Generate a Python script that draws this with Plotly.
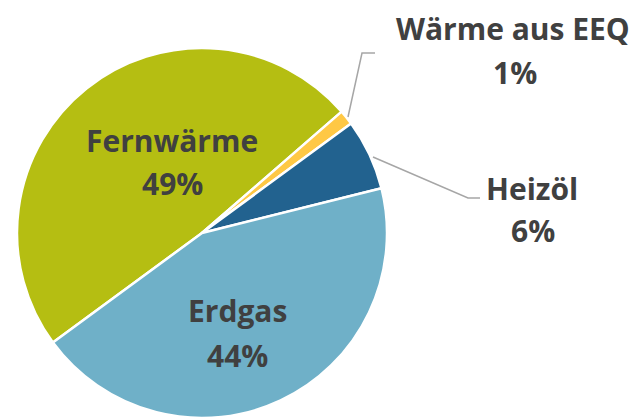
import plotly.graph_objects as go

labels = ["Fernwärme", "Wärme aus EEQ", "Heizöl", "Erdgas"]
values = [48.7, 1.3, 6.2, 43.8]
colors = ["#B5BE12", "#FFC845", "#22628F", "#6FB0C8"]

W, H = 643, 418
R = 185
CX, CY = 202, H - R

fig = go.Figure(go.Pie(
    labels=labels, values=values, sort=False, direction="clockwise",
    rotation=233.7, textinfo="none", hoverinfo="label+percent",
    marker=dict(colors=colors, line=dict(color="white", width=2.5)),
    domain=dict(x=[0, 2 * CX / W], y=[0, 2 * R / H]),
    showlegend=False,
))

# label positions in pixels (name line center, percent line center)
label_pos = {
    "Fernwärme": ((172, 140), (172, 183)),
    "Wärme aus EEQ": ((513, 28), (515, 73)),
    "Heizöl": ((532, 188), (533, 230)),
    "Erdgas": ((237, 310), (237, 355)),
}
font = dict(family="Open Sans", size=30, color="#404040", weight="bold")
for lab, val in zip(labels, values):
    (nx, ny), (px, py) = label_pos[lab]
    fig.add_annotation(x=nx / W, y=1 - ny / H, xref="paper", yref="paper",
                       text=lab, showarrow=False, font=font,
                       xanchor="center", yanchor="middle")
    fig.add_annotation(x=px / W, y=1 - py / H, xref="paper", yref="paper",
                       text=f"{round(val)}%", showarrow=False, font=font,
                       xanchor="center", yanchor="middle")

def pp(pts):
    return "M " + " L ".join(f"{x / W},{1 - y / H}" for x, y in pts)

for pts in [[(348, 117), (362, 53), (375, 53)],
            [(373, 157), (468, 198), (480, 198)]]:
    fig.add_shape(type="path", path=pp(pts), xref="paper", yref="paper",
                  line=dict(color="#A6A6A6", width=1.5))

fig.update_layout(width=W, height=H, margin=dict(l=0, r=0, t=0, b=0),
                  paper_bgcolor="white", plot_bgcolor="white")
fig.write_html("out.html", config={"displayModeBar": False},
               post_script="document.body.style.margin='0';document.body.style.overflow='hidden';")
